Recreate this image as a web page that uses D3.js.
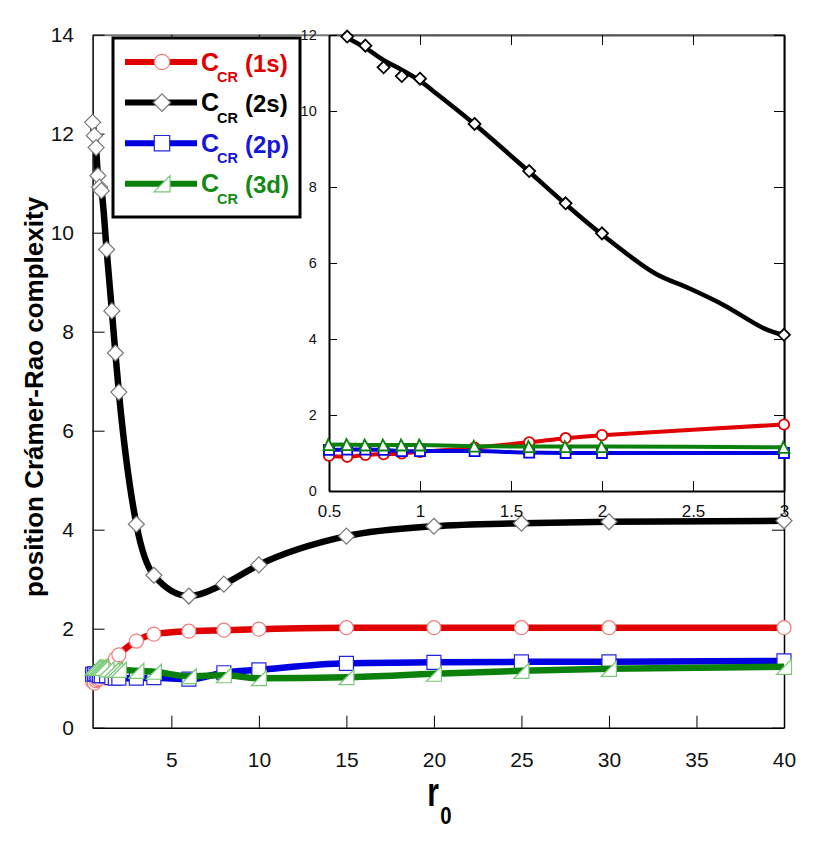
<!DOCTYPE html>
<html>
<head>
<meta charset="utf-8">
<script src="https://cdn.jsdelivr.net/npm/d3@7"></script>
<style>
  body { margin: 0; background: #fff; }
  text { font-family: "Liberation Sans", Arial, sans-serif; }
</style>
</head>
<body>
<div id="chart"></div>
<script>
// r0 values where the complexity was computed
var r0 = [0.5, 0.6, 0.7, 0.8, 0.9, 1.0, 1.3, 1.6, 1.8, 2, 3, 4, 6, 8, 10, 15, 20, 25, 30, 40];

var cr1s = [0.93, 0.90, 0.95, 0.97, 0.99, 1.03, 1.14, 1.28, 1.39, 1.47, 1.75, 1.89, 1.95, 1.97, 1.99, 2.02, 2.02, 2.02, 2.02, 2.02];
var cr2s = [12.23, 11.96, 11.72, 11.15, 10.92, 10.85, 9.66, 8.42, 7.57, 6.78, 4.11, 3.08, 2.66, 2.90, 3.29, 3.87, 4.07, 4.13, 4.16, 4.18];
var cr2p = [1.08, 1.09, 1.09, 1.08, 1.05, 1.05, 1.05, 1.01, 1.00, 1.00, 1.00, 1.01, 0.98, 1.11, 1.17, 1.30, 1.32, 1.33, 1.33, 1.35];
var cr3d = [1.22, 1.22, 1.21, 1.21, 1.21, 1.21, 1.18, 1.17, 1.17, 1.17, 1.15, 1.13, 1.04, 1.06, 1.00, 1.02, 1.09, 1.15, 1.19, 1.23];

// smooth 2s curve as drawn in the inset (the line does not hit every marker)
var curve2sR = [0.6, 0.7, 0.8, 0.9, 1.0, 1.1, 1.3, 1.6, 1.8, 2.0, 2.29, 2.48, 2.67, 2.89, 3.0];
var curve2sV = [11.93, 11.66, 11.34, 11.08, 10.79, 10.42, 9.65, 8.40, 7.55, 6.75, 5.73, 5.33, 4.89, 4.28, 4.10];

var mainXTicks = [5, 10, 15, 20, 25, 30, 35, 40];
var mainYTicks = [0, 2, 4, 6, 8, 10, 12, 14];
var insetXTicks = [0.5, 1, 1.5, 2, 2.5, 3];
var insetYTicks = [0, 2, 4, 6, 8, 10, 12];

var labels = ["(1s)", "(2s)", "(2p)", "(3d)"];

var series = [
  { values: cr1s, color: "#e00000", text: "#e00000", marker: "circle", mStroke: "#f07c7c", inStroke: "#e00000" },
  { values: cr2s, color: "#000000", text: "#000000", marker: "diamond", mStroke: "#777777", inStroke: "#000000" },
  { values: cr2p, color: "#0000e0", text: "#1616d8", marker: "square", mStroke: "#2424e0", inStroke: "#0000f0" },
  { values: cr3d, color: "#0b800b", text: "#138a13", marker: "triangle", mStroke: "#78c878", inStroke: "#0b800b" }
];

var W = 830, H = 851;

var svg = d3.select("#chart")
  .append("svg")
  .attr("width", W)
  .attr("height", H);

// main scales
var x = d3.scaleLinear().domain([0.5, 40]).range([92.6, 784]);
var y = d3.scaleLinear().domain([0, 14]).range([727.7, 34.7]);

// inset scales
var xi = d3.scaleLinear().domain([0.5, 3]).range([329, 784]);
var yi = d3.scaleLinear().domain([0, 12]).range([491, 35]);

function markerPath(type, s) {
  if (type == "circle") return d3.symbol(d3.symbolCircle, Math.PI * s * s)();
  if (type == "diamond") return "M0," + (-s) + "L" + s + ",0L0," + s + "L" + (-s) + ",0Z";
  if (type == "square") return "M" + (-s) + "," + (-s) + "h" + 2 * s + "v" + 2 * s + "h" + (-2 * s) + "Z";
  if (type == "triangle") return "M" + (-s) + "," + s + "L" + s + "," + (-s) + "L" + s + "," + s + "Z";
  if (type == "triangleUp") return "M" + (-s) + "," + s + "L" + (-s * 0.15) + "," + (-s) + "L" + s + "," + s + "Z";
}

function styleAxis(g, color, width) {
  g.select(".domain").attr("stroke", color).attr("stroke-width", width);
  g.selectAll(".tick line").attr("stroke", "#000").attr("stroke-width", 1);
}

// ---- main axes ----
var mainSize = { circle: 7, diamond: 8, square: 7, triangle: 7.5 };

svg.append("g")
  .attr("transform", "translate(0," + y(0) + ")")
  .call(d3.axisBottom(x).tickValues(mainXTicks).tickSizeInner(-12).tickSizeOuter(0).tickPadding(24))
  .call(function(g) { styleAxis(g, "#000", 1.5); })
  .selectAll("text")
  .style("font-size", "21px")
  .attr("fill", "#111");

svg.append("g")
  .attr("transform", "translate(0," + y(14) + ")")
  .call(d3.axisTop(x).tickValues(mainXTicks).tickSizeInner(-12).tickSizeOuter(0).tickFormat(""))
  .call(function(g) { styleAxis(g, "#777", 2); });

svg.append("g")
  .attr("transform", "translate(" + x(0.5) + ",0)")
  .call(d3.axisLeft(y).tickValues(mainYTicks).tickSizeInner(-12).tickSizeOuter(0).tickPadding(18.6))
  .call(function(g) { styleAxis(g, "#000", 1.5); })
  .selectAll("text")
  .style("font-size", "21px")
  .attr("fill", "#111");

svg.append("g")
  .attr("transform", "translate(" + x(40) + ",0)")
  .call(d3.axisRight(y).tickValues(mainYTicks).tickSizeInner(-12).tickSizeOuter(0).tickFormat(""))
  .call(function(g) { styleAxis(g, "#000", 1.5); });

// ---- main series ----
var mainLine = d3.line()
  .x(function(d) { return x(d.r); })
  .y(function(d) { return y(d.v); })
  .curve(d3.curveMonotoneX);

series.forEach(function(s) {
  var pts = r0.map(function(r, i) { return { r: r, v: s.values[i] }; });
  var g = svg.append("g");
  g.append("path")
    .datum(pts)
    .attr("fill", "none")
    .attr("stroke", s.color)
    .attr("stroke-width", 6.5)
    .attr("stroke-linejoin", "round")
    .attr("d", mainLine);
  g.selectAll("path.m")
    .data(pts)
    .enter()
    .append("path")
    .attr("class", "m")
    .attr("transform", function(d) { return "translate(" + x(d.r) + "," + y(d.v) + ")"; })
    .attr("d", markerPath(s.marker, mainSize[s.marker]))
    .attr("fill", "#fff")
    .attr("stroke", s.mStroke)
    .attr("stroke-width", 1.2);
});

// ---- axis titles ----
svg.append("text")
  .attr("transform", "translate(43,397) rotate(-90)")
  .attr("text-anchor", "middle")
  .style("font-size", "26px")
  .style("font-weight", "bold")
  .attr("fill", "#000")
  .text("position Crámer-Rao complexity");

svg.append("text")
  .attr("transform", "translate(433,806) scale(0.75,1)")
  .attr("text-anchor", "middle")
  .style("font-size", "40px")
  .style("font-weight", "bold")
  .text("r");

svg.append("text")
  .attr("transform", "translate(446,824) scale(0.85,1)")
  .attr("text-anchor", "middle")
  .style("font-size", "24px")
  .style("font-weight", "bold")
  .text("0");

// ---- legend ----
var legend = svg.append("g");
legend.append("rect")
  .attr("x", 113).attr("y", 38)
  .attr("width", 187).attr("height", 179)
  .attr("fill", "#fff")
  .attr("stroke", "#000")
  .attr("stroke-width", 3);

var legendSize = { circle: 7.7, diamond: 8.7, square: 7.7, triangle: 8 };

series.forEach(function(s, i) {
  var ly = 62 + i * 40.6;
  var lg = legend.append("g").attr("transform", "translate(0," + ly + ")");
  lg.append("line")
    .attr("x1", 125).attr("x2", 197)
    .attr("stroke", s.color)
    .attr("stroke-width", 6);
  lg.append("path")
    .attr("transform", "translate(162,0)")
    .attr("d", markerPath(s.marker, legendSize[s.marker]))
    .attr("fill", "#fff")
    .attr("stroke", s.mStroke)
    .attr("stroke-width", 1.2);
  lg.append("text")
    .attr("x", 201).attr("y", 8.5)
    .style("font-size", "25px").style("font-weight", "bold")
    .attr("fill", s.text)
    .text("C");
  lg.append("text")
    .attr("x", 217).attr("y", 20)
    .style("font-size", "14.5px").style("font-weight", "bold")
    .attr("fill", s.text)
    .text("CR");
  lg.append("text")
    .attr("x", 245).attr("y", 9.5)
    .style("font-size", "24px").style("font-weight", "bold")
    .attr("fill", s.text)
    .text(labels[i]);
});

// ---- inset ----
var inset = svg.append("g");
inset.append("rect")
  .attr("x", xi(0.5)).attr("y", yi(12))
  .attr("width", xi(3) - xi(0.5)).attr("height", yi(0) - yi(12))
  .attr("fill", "#fff");

inset.append("g")
  .attr("transform", "translate(0," + yi(0) + ")")
  .call(d3.axisBottom(xi).tickValues(insetXTicks).tickSizeInner(-10).tickSizeOuter(0).tickPadding(14)
    .tickFormat(function(d) { return d3.format("")(d); }))
  .call(function(g) { styleAxis(g, "#000", 2); })
  .selectAll("text")
  .style("font-size", "17px")
  .attr("fill", "#111");

inset.append("g")
  .attr("transform", "translate(0," + yi(12) + ")")
  .call(d3.axisTop(xi).tickValues(insetXTicks).tickSizeInner(-10).tickSizeOuter(0).tickFormat(""))
  .call(function(g) { styleAxis(g, "#555", 2); });

inset.append("g")
  .attr("transform", "translate(" + xi(0.5) + ",0)")
  .call(d3.axisLeft(yi).tickValues(insetYTicks).tickSizeInner(-8).tickSizeOuter(0).tickPadding(12.3))
  .call(function(g) { styleAxis(g, "#000", 2); })
  .selectAll("text")
  .style("font-size", "14.5px")
  .attr("fill", "#111");

inset.append("g")
  .attr("transform", "translate(" + xi(3) + ",0)")
  .call(d3.axisRight(yi).tickValues(insetYTicks).tickSizeInner(-10).tickSizeOuter(0).tickFormat(""))
  .call(function(g) { styleAxis(g, "#000", 2); });

var insetLine = d3.line()
  .x(function(d) { return xi(d.r); })
  .y(function(d) { return yi(d.v); })
  .curve(d3.curveCatmullRom.alpha(0.5));

var insetSize = { circle: 5.2, diamond: 6, square: 5, triangle: 5.5 };
var curve2s = curve2sR.map(function(r, i) { return { r: r, v: curve2sV[i] }; });

series.forEach(function(s, k) {
  var pts = r0.map(function(r, i) { return { r: r, v: s.values[i] }; })
    .filter(function(d) { return d.r <= 3 && d.v <= 12; });
  var g = inset.append("g");
  g.append("path")
    .datum(k == 1 ? curve2s : pts)
    .attr("fill", "none")
    .attr("stroke", s.color)
    .attr("stroke-width", k == 1 ? 4.5 : 4)
    .attr("stroke-linejoin", "round")
    .attr("d", insetLine);
  g.selectAll("path.m")
    .data(pts)
    .enter()
    .append("path")
    .attr("class", "m")
    .attr("transform", function(d) { return "translate(" + xi(d.r) + "," + yi(d.v) + ")"; })
    .attr("d", markerPath(s.marker == "triangle" ? "triangleUp" : s.marker, insetSize[s.marker]))
    .attr("fill", "#fff")
    .attr("stroke", s.inStroke)
    .attr("stroke-width", 1.8);
});
</script>
</body>
</html>
